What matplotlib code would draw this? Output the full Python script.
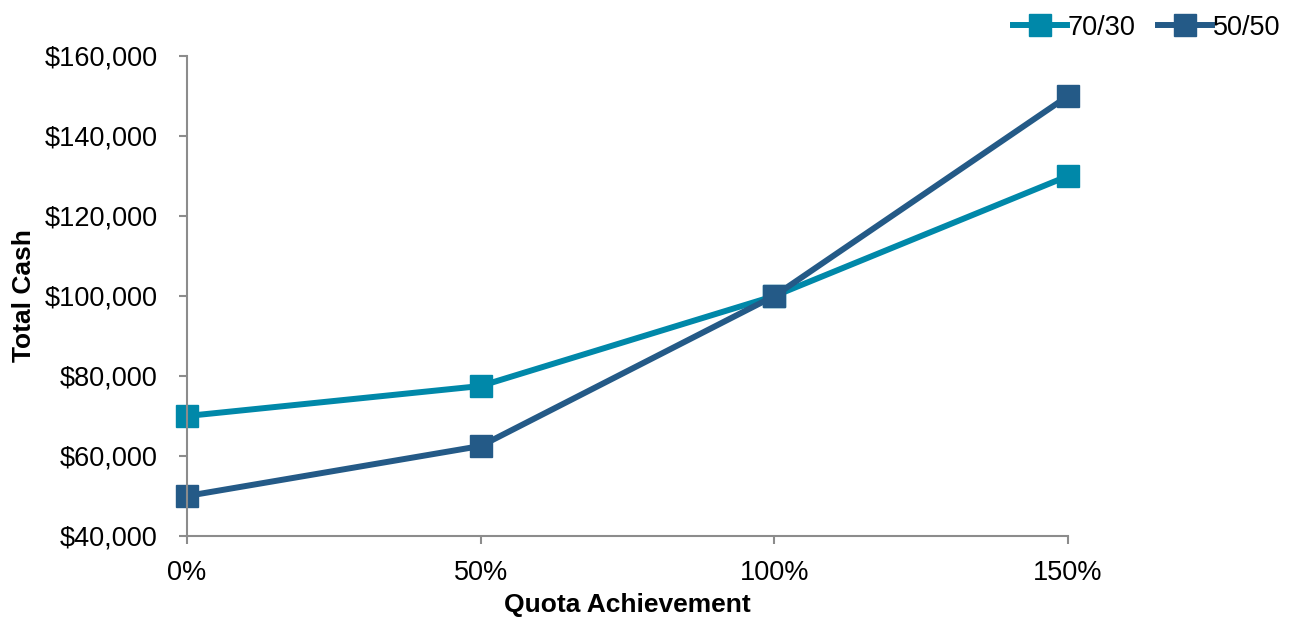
import matplotlib.pyplot as plt
from matplotlib.ticker import FuncFormatter

plt.rcParams['font.family'] = ['Liberation Sans', 'DejaVu Sans']

quota = [0, 50, 100, 150]
tick_labels = ['0%', '50%', '100%', '150%']
cash_70_30 = [70000, 77500, 100000, 130000]
cash_50_50 = [50000, 62500, 100000, 150000]

fig = plt.figure(figsize=(12.91, 6.18), dpi=100)
ax = fig.add_axes([0.1449, 0.1327, 0.6824, 0.7767])

ax.plot(quota, cash_70_30, color='#0088A9', lw=4.3, marker='s', ms=15.5, label='70/30')
ax.plot(quota, cash_50_50, color='#245A87', lw=4.3, marker='s', ms=15.5, label='50/50')

ax.set_xlim(0, 150)
ax.set_ylim(40000, 160000)
ax.set_xticks(quota)
ax.set_xticklabels(tick_labels)
ax.set_yticks(range(40000, 160001, 20000))
ax.yaxis.set_major_formatter(FuncFormatter(lambda v, p: f'${v:,.0f}'))

for s in ['top', 'right']:
    ax.spines[s].set_visible(False)
for s in ['left', 'bottom']:
    ax.spines[s].set_color('#8c8c8c')
    ax.spines[s].set_linewidth(1.5)
ax.tick_params(axis='both', colors='#8c8c8c', width=1.5, length=6, labelsize=19.5,
               labelcolor='black')
ax.tick_params(axis='y', pad=15)
ax.tick_params(axis='x', pad=11)
for line in ax.lines:
    line.set_clip_on(False)

ax.set_xlabel('Quota Achievement', fontsize=19, fontweight='bold', labelpad=5)
ax.set_ylabel('Total Cash', fontsize=19, fontweight='bold', labelpad=6)

ax.legend(loc='center right', bbox_to_anchor=(0.992, 0.955), bbox_transform=fig.transFigure,
          ncol=2, frameon=False, fontsize=19.5, handlelength=2.0, handletextpad=0.05,
          columnspacing=0.8, borderaxespad=0, borderpad=0)

fig.savefig('out.png', dpi=100)
